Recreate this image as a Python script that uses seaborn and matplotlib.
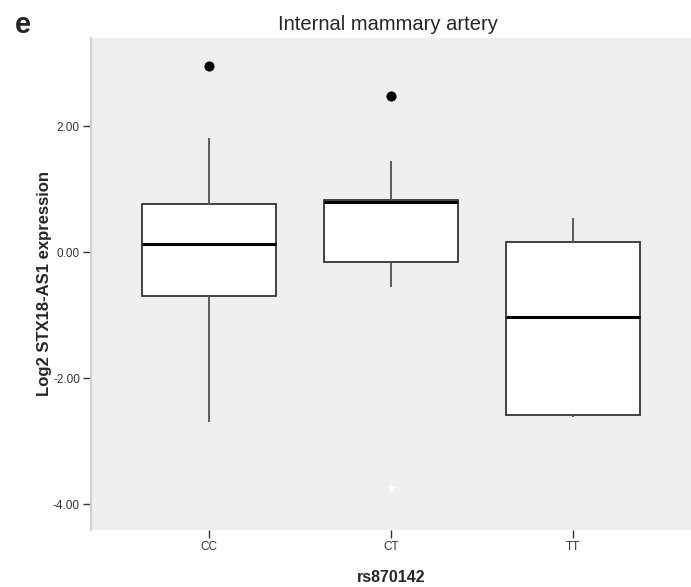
import numpy as np
import pandas as pd
import matplotlib
matplotlib.use("Agg")
import matplotlib.pyplot as plt
import seaborn as sns

# box summary values (Log2 STX18-AS1 expression)
genotypes = ["CC", "CT", "TT"]
whisker_low = [-2.70, -0.55, -2.61]
q1 = [-0.69, -0.16, -2.58]
median = [0.13, 0.80, -1.03]
q3 = [0.76, 0.825, 0.16]
whisker_high = [1.82, 1.44, 0.55]

# outliers (circles) and extremes (stars)
outlier_groups = ["CC", "CT"]
outlier_values = [2.96, 2.48]
extreme_groups = ["CT"]
extreme_values = [-3.74]

y_ticks = [2.0, 0.0, -2.0, -4.0]

sns.set_theme(style="white")
plt.rcParams["font.family"] = ["Liberation Sans", "DejaVu Sans"]
plt.rcParams["axes.unicode_minus"] = False

# five-number rows per group, so whis=(0, 100) reproduces the boxes exactly
rows = []
for i, g in enumerate(genotypes):
    for v in [whisker_low[i], q1[i], median[i], q3[i], whisker_high[i]]:
        rows.append({"genotype": g, "value": v})
df = pd.DataFrame(rows)

fig = plt.figure(figsize=(6.91, 5.87), dpi=100)
ax = fig.add_axes([91 / 691, 57 / 587, 600 / 691, 492 / 587])
ax.set_facecolor("#efefef")

sns.boxplot(
    data=df, x="genotype", y="value", order=genotypes, ax=ax,
    whis=(0, 100), width=0.74, showcaps=False, showfliers=False,
    boxprops=dict(facecolor="white", edgecolor="#333333", linewidth=1.3),
    whiskerprops=dict(color="#5a5a5a", linewidth=1.4),
    medianprops=dict(color="black", linewidth=2.2),
)

out_df = pd.DataFrame({"genotype": outlier_groups, "value": outlier_values})
sns.scatterplot(data=out_df, x="genotype", y="value", ax=ax,
                color="black", s=45, marker="o", edgecolor="black", zorder=5)
ext_df = pd.DataFrame({"genotype": extreme_groups, "value": extreme_values})
sns.scatterplot(data=ext_df, x="genotype", y="value", ax=ax,
                color="white", s=40, marker="*", edgecolor="white", zorder=5)

ax.set_xlim(-0.65, 2.65)
ax.set_ylim(-4.41, 3.40)
ax.set_yticks(y_ticks)
ax.set_yticklabels([f"{t:.2f}" for t in y_ticks])

for side in ["top", "right", "bottom"]:
    ax.spines[side].set_visible(False)
ax.spines["left"].set_color("#d0d0d0")
ax.spines["left"].set_linewidth(1.5)

ax.tick_params(axis="both", which="major", direction="out", length=6, width=1,
               color="#333333", labelsize=8.5, labelcolor="#333333",
               left=True, bottom=True, pad=2)

ax.set_xlabel("rs870142", fontsize=11.5, fontweight="bold", labelpad=12)
ax.set_ylabel("Log2 STX18-AS1 expression", fontsize=12, fontweight="bold", labelpad=1)

fig.text(388 / 691, 1 - 25 / 587, "Internal mammary artery", ha="center", va="center", fontsize=14.5)
fig.text(23 / 691, 1 - 25 / 587, "e", ha="center", va="center", fontsize=21, fontweight="bold")

fig.savefig("out.png", dpi=100)
